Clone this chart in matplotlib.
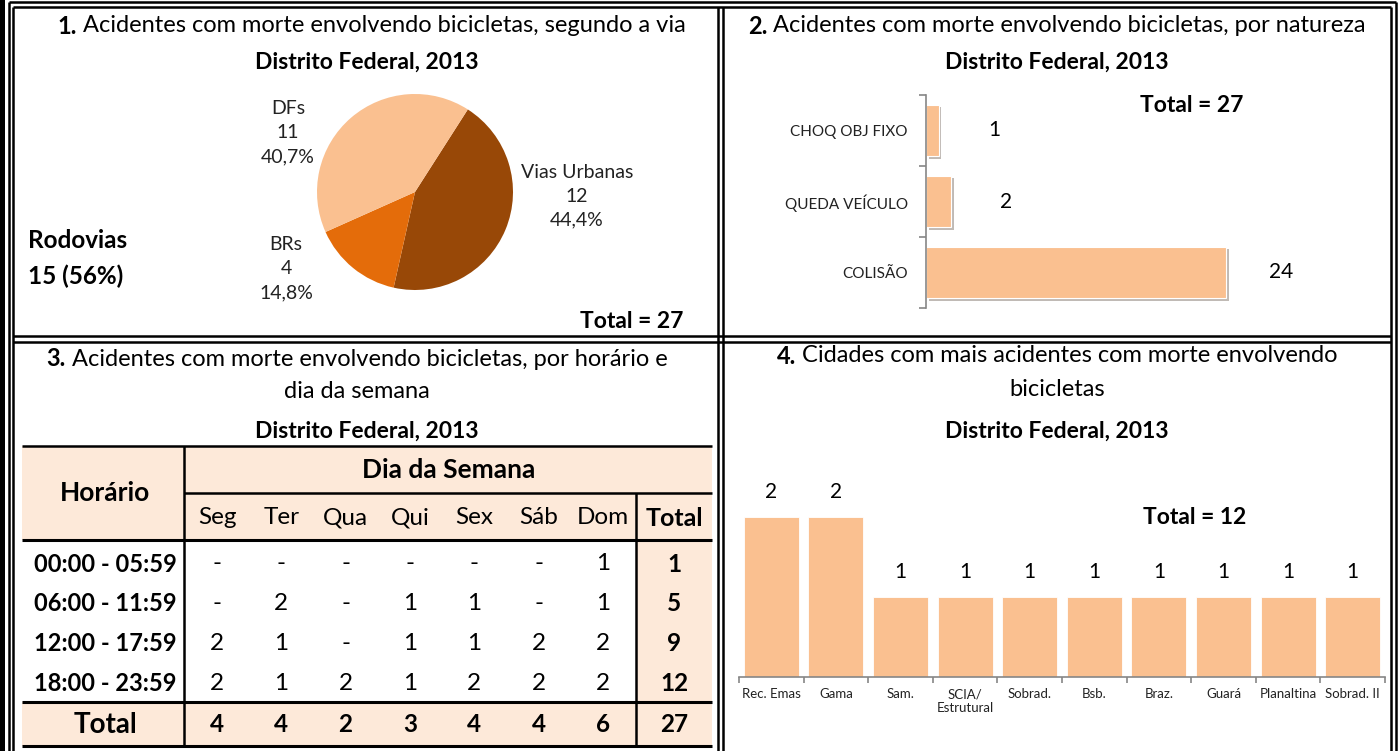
import matplotlib
matplotlib.use("Agg")
import matplotlib.pyplot as plt
import matplotlib.patheffects as pe
from matplotlib.patches import Rectangle

plt.rcParams['font.family'] = ['Lato', 'DejaVu Sans']

# ---- data ----
via_labels = ['Vias Urbanas', 'BRs', 'DFs']
via_values = [12, 4, 11]
via_pct = ['44,4%', '14,8%', '40,7%']

nat_labels = ['CHOQ OBJ FIXO', 'QUEDA VEÍCULO', 'COLISÃO']
nat_values = [1, 2, 24]

horarios = ['00:00 - 05:59', '06:00 - 11:59', '12:00 - 17:59', '18:00 - 23:59']
dias = ['Seg', 'Ter', 'Qua', 'Qui', 'Sex', 'Sáb', 'Dom']
contagem = [[0, 0, 0, 0, 0, 0, 1],
            [0, 2, 0, 1, 1, 0, 1],
            [2, 1, 0, 1, 1, 2, 2],
            [2, 1, 2, 1, 2, 2, 2]]

cidades = ['Rec. Emas', 'Gama', 'Sam.', 'SCIA/\nEstrutural', 'Sobrad.', 'Bsb.',
           'Braz.', 'Guará', 'Planaltina', 'Sobrad. II']
cid_values = [2, 2, 1, 1, 1, 1, 1, 1, 1, 1]

# ---- colours ----
light = '#FAC090'
dark = '#984807'
orange = '#E46C0A'
peach = '#FDE9D9'
gray = '#868686'

TS = 17   # title size

W, H = 1399, 751
fig = plt.figure(figsize=(W / 100, H / 100), dpi=100)
ax0 = fig.add_axes([0, 0, 1, 1])
ax0.set_xlim(0, W)
ax0.set_ylim(H, 0)
ax0.axis('off')
rend = fig.canvas.get_renderer()


def box(x0, y0, x1, y1):
    return [x0 / W, 1 - y1 / H, (x1 - x0) / W, (y1 - y0) / H]


def hline(y, x0, x1, lw=1.8):
    ax0.plot([x0, x1], [y, y], color='black', lw=lw, solid_capstyle='butt')


def vline(x, y0, y1, lw=1.8):
    ax0.plot([x, x], [y0, y1], color='black', lw=lw, solid_capstyle='butt')


def title(cx, y, bold, rest, size=TS):
    t1 = ax0.text(0, y, bold, fontweight='bold', fontsize=size, ha='left', va='center')
    t2 = ax0.text(0, y, rest, fontsize=size, ha='left', va='center')
    w1 = t1.get_window_extent(rend).width
    w2 = t2.get_window_extent(rend).width
    x0 = cx - (w1 + w2) / 2
    t1.set_x(x0)
    t2.set_x(x0 + w1)


def btext(x, y, s, size=16.5, ha='center', **kw):
    ax0.text(x, y, s, fontsize=size, fontweight='bold', ha=ha, va='center', **kw)


# ---- frame ----
ax0.add_patch(Rectangle((0, 0), 4.5, H, color='black', lw=0))
for x in (8.5, 13, 718, 722.5, 1391, 1395.5):
    y0 = 2 if x in (8.5, 1395.5) else 7
    vline(x, y0, H + 5)
hline(2, 8.5, 1395.5)
hline(7, 13, 1391)
hline(336, 13, 1391)
hline(341.5, 13, 1391)

# ---- panel 1: pie ----
title(372, 26, '1.', ' Acidentes com morte envolvendo bicicletas, segundo a via')
btext(367, 62, 'Distrito Federal, 2013')
axp = fig.add_axes(box(317, 94, 513, 290))
axp.pie(via_values, colors=[dark, orange, light], startangle=57.4, counterclock=False,
        radius=1, wedgeprops=dict(lw=0))
axp.set_xlim(-1, 1)
axp.set_ylim(-1, 1)
label_pos = [(577, 196), (286, 269), (288, 133)]
for (x, y), lab, v, p in zip(label_pos, via_labels, via_values, via_pct):
    ax0.text(x, y, f'{lab}\n{v}\n{p}', fontsize=14, ha='center', va='center',
             linespacing=1.5, color='#222222')
btext(28, 240, 'Rodovias', size=17.5, ha='left')
btext(28, 276, f'{via_values[1] + via_values[2]} (56%)', size=17.5, ha='left')
btext(683, 322, f'Total = {sum(via_values)}', ha='right')

# ---- panel 2: horizontal bars ----
title(1057, 26, '2.', ' Acidentes com morte envolvendo bicicletas, por natureza')
btext(1057, 62, 'Distrito Federal, 2013')
axb = fig.add_axes(box(926, 95, 1301, 308))
ypos = list(range(len(nat_values)))
bars = axb.barh(ypos, nat_values, height=0.73, color=light, edgecolor='white', lw=0.8)
for b in bars:
    b.set_path_effects([pe.SimplePatchShadow(offset=(2, -2), alpha=0.35), pe.Normal()])
axb.set_xlim(0, 30)
axb.set_ylim(2.5, -0.5)
for s in ('top', 'right', 'bottom'):
    axb.spines[s].set_visible(False)
axb.spines['left'].set_color(gray)
axb.spines['left'].set_linewidth(1.2)
axb.set_xticks([])
axb.set_yticks(ypos)
axb.set_yticklabels(nat_labels, fontsize=11, color='#222222')
axb.tick_params(axis='y', which='major', length=0, pad=13)
axb.set_yticks([-0.5, 0.5, 1.5, 2.5], minor=True)
axb.tick_params(axis='y', which='minor', length=5, width=1.2, color=gray)
axb.patch.set_alpha(0)
for yv, v in zip(ypos, nat_values):
    axb.annotate(str(v), (v, yv), xytext=(40, 0), textcoords='offset points',
                 ha='center', va='center', fontsize=15)
btext(1192, 105, f'Total = {sum(nat_values)}')

# ---- panel 3: table ----
title(357, 359, '3.', ' Acidentes com morte envolvendo bicicletas, por horário e')
ax0.text(357, 392, 'dia da semana', fontsize=TS, ha='center', va='center')
btext(367, 431, 'Distrito Federal, 2013')

tx0, tx1 = 22, 712
ax0.add_patch(Rectangle((tx0, 446), tx1 - tx0, 540 - 446, color=peach, lw=0))
ax0.add_patch(Rectangle((636, 540), tx1 - 636, 702 - 540, color=peach, lw=0))
ax0.add_patch(Rectangle((tx0, 702), tx1 - tx0, 746 - 702, color=peach, lw=0))
hline(446, tx0, tx1)
hline(493, 184, tx1)
hline(540, tx0, tx1, lw=2.2)
hline(702, tx0, tx1, lw=2.2)
hline(746, tx0, tx1, lw=2.2)
vline(184, 446, 746)
vline(636, 493, 746)

col_x = [217 + 64.3 * i for i in range(len(dias))]
row_y = [564 + 39.7 * i for i in range(len(horarios))]
btext(105, 493, 'Horário', size=19)
btext(449, 470, 'Dia da Semana', size=19)
for x, d in zip(col_x, dias):
    ax0.text(x, 518, d, fontsize=17.5, ha='center', va='center')
btext(674, 518, 'Total', size=18)
for y, h, row in zip(row_y, horarios, contagem):
    btext(105, y, h, size=17)
    for x, v in zip(col_x, row):
        ax0.text(x, y, str(v) if v else '-', fontsize=17.5, ha='center', va='center')
    btext(674, y, str(sum(row)), size=17.5)
btext(105, 725, 'Total', size=20)
for i, x in enumerate(col_x):
    btext(x, 725, str(sum(r[i] for r in contagem)), size=17.5)
btext(674, 725, str(sum(sum(r) for r in contagem)), size=17.5)

# ---- panel 4: vertical bars ----
title(1057, 356, '4.', ' Cidades com mais acidentes com morte envolvendo')
ax0.text(1057, 390, 'bicicletas', fontsize=TS, ha='center', va='center')
btext(1057, 431, 'Distrito Federal, 2013')
axc = fig.add_axes(box(739, 477, 1385, 677))
xpos = list(range(len(cid_values)))
axc.bar(xpos, cid_values, width=0.85, color=light, edgecolor='white', lw=0.6)
axc.set_xlim(-0.5, len(cid_values) - 0.5)
axc.set_ylim(0, 2.5)
for s in ('top', 'right', 'left'):
    axc.spines[s].set_visible(False)
axc.spines['bottom'].set_color(gray)
axc.spines['bottom'].set_linewidth(1.2)
axc.set_yticks([])
axc.set_xticks(xpos)
axc.set_xticklabels(cidades, fontsize=9.5, color='#222222', linespacing=1.15)
axc.tick_params(axis='x', which='major', length=0, pad=8)
axc.set_xticks([i - 0.5 for i in range(len(cid_values) + 1)], minor=True)
axc.tick_params(axis='x', which='minor', length=4, width=1.2, color=gray)
axc.patch.set_alpha(0)
for xv, v in zip(xpos, cid_values):
    axc.annotate(str(v), (xv, v), xytext=(0, 18), textcoords='offset points',
                 ha='center', va='center', fontsize=15)
btext(1195, 518, 'Total = 12')

fig.savefig('out.png', dpi=100)
